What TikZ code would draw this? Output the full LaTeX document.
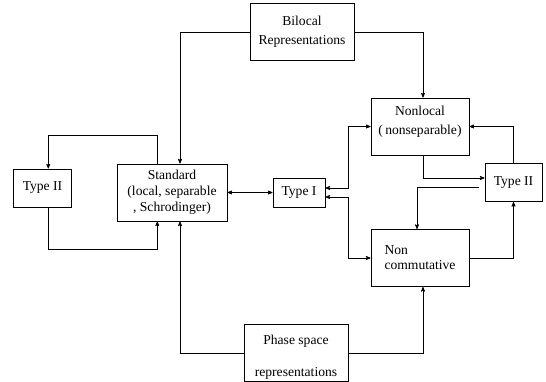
\documentclass[tikz,border=0pt]{standalone}
\usepackage{fontspec}
\setmainfont{Liberation Serif}
\usetikzlibrary{positioning, arrows}
\usetikzlibrary{calc}

\tikzset{
  box/.style={draw, line width=1pt, inner sep=0pt, align=center,
    font=\fontsize{13.6}{19}\selectfont},
  link/.style={line width=0.7pt, >=stealth'}
}

\begin{document}
\begin{tikzpicture}[x=1pt, y=-1pt, on grid]
    \useasboundingbox (0,0) rectangle (546,381);
    \node[box, minimum width=110pt, minimum height=57pt,
          font=\fontsize{13.6}{16}\selectfont] (std) at (172,192.5)
          {Standard\\(local, separable\\, Schrodinger)};
    \node[box, minimum width=58.5pt, minimum height=38pt] (tIIl) [above left=4.5pt and 129.5pt of std] {Type II};
    \node[box, minimum width=52pt, minimum height=29pt] (tI) [right=127pt of std] {Type I};
    \node[box, minimum width=98pt, minimum height=57pt] (nonloc) [above right=66pt and 121pt of tI]
          {Nonlocal\\(\,nonseparable)\rule[-12pt]{0pt}{0pt}};
    \node[box, minimum width=98pt, minimum height=57pt, align=left,
          font=\fontsize{13.6}{15}\selectfont] (noncom) [below=131.5pt of nonloc] {Non\\commutative};
    \node[box, minimum width=57pt, minimum height=38pt] (tIIr) [below right=56pt and 93.5pt of nonloc] {Type II};
    \node[box, minimum width=104pt, minimum height=57pt] (biloc) [above right=160.5pt and 3pt of tI] {Bilocal\\Representations};
    \node[box, minimum width=104pt, minimum height=57pt,
          font=\fontsize{13.6}{32}\selectfont] (phase) [below left=160.5pt and 3pt of tI]
          {\rule{0pt}{18.5pt}Phase space\\representations};

    % left loop
    \draw[link, ->] ([xshift=-14.7pt]std.north) -- ++(0,28pt) -| ([xshift=5.8pt]tIIl.north);
    \draw[link, ->] ([xshift=5.8pt]tIIl.south) -- ++(0,-42pt) -| ([xshift=-14.7pt]std.south);

    % from the outer boxes
    \draw[link, ->] (biloc.west) -| ([xshift=8pt]std.north);
    \draw[link, ->] (biloc.east) -| ([xshift=3pt]nonloc.north);
    \draw[link, ->] (phase.west) -| ([xshift=8pt]std.south);
    \draw[link, ->] (phase.east) -| ([xshift=3pt]noncom.south);

    % middle
    \draw[link, <->] (std) -- (tI);
    \draw[link, <->] ([yshift=4.5pt]tI.east) -- ++(23pt,0) |- (nonloc.west);
    \draw[link, <->] ([yshift=-4.5pt]tI.east) -- ++(23pt,0) |- (noncom.west);

    % right loop
    \draw[link, ->] ([xshift=3pt]nonloc.south) |- ([yshift=4.5pt]tIIr.west);
    \draw[link, ->] ([xshift=-6pt,yshift=-4.5pt]tIIr.west) -| ([xshift=-3pt]noncom.north);
    \draw[link, ->] (tIIr.north) |- (nonloc.east);
    \draw[link, ->] (noncom.east) -| (tIIr.south);
\end{tikzpicture}
\end{document}
